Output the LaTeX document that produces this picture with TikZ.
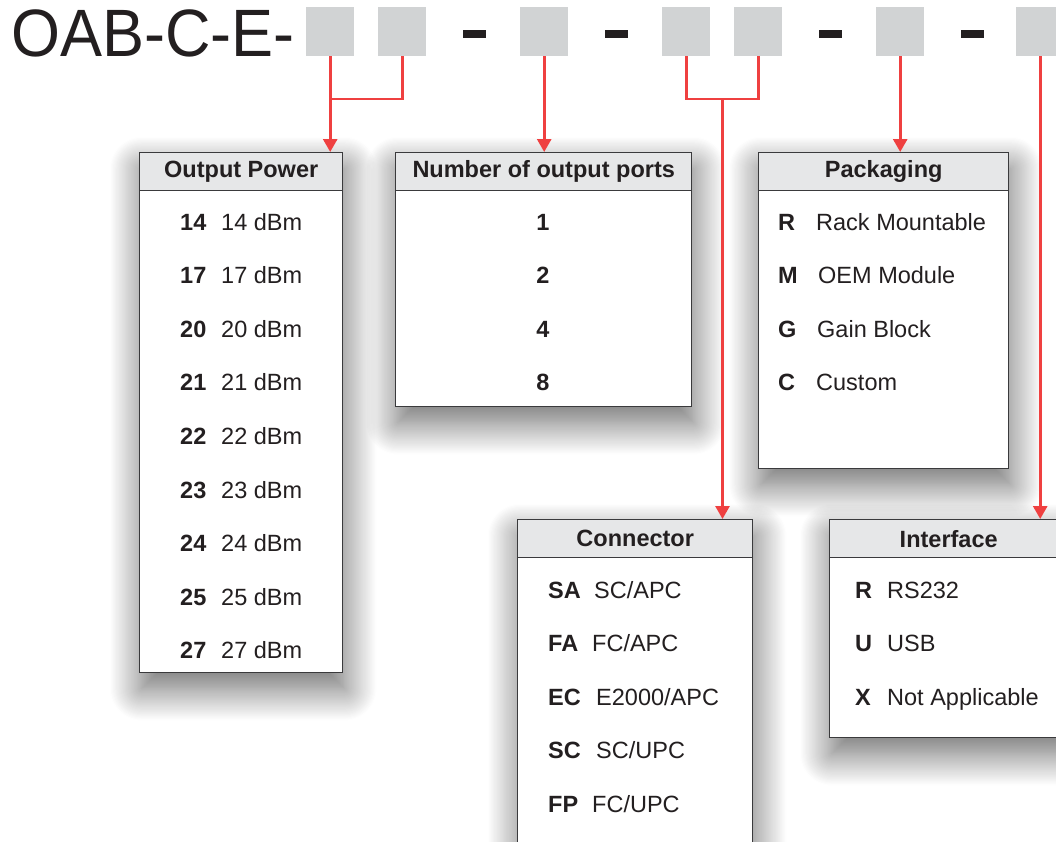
\documentclass[tikz,border=0pt]{standalone}
\usepackage{fontspec}
\setmainfont{Liberation Sans}
\usetikzlibrary{shadows.blur,arrows.meta}
\definecolor{ink}{HTML}{231F20}
\definecolor{slotgray}{HTML}{D1D3D4}
\definecolor{hdrgray}{HTML}{E6E7E8}
\definecolor{framegray}{HTML}{3A3A3C}
\definecolor{leadred}{HTML}{EF4040}
\begin{document}
\begin{tikzpicture}[x=1pt,y=-1pt,font=\fontsize{23.5}{28}\selectfont,text=ink,
  slot/.style={fill=slotgray,draw=none,minimum width=48pt,minimum height=49pt,inner sep=0,anchor=north west},
  dashbar/.style={fill=ink,draw=none,minimum width=23pt,minimum height=8pt,inner sep=0,anchor=north west},
  panel/.style={draw=framegray,line width=1.4pt,fill=white,inner sep=0,anchor=north west,
    blur shadow={shadow xshift=2pt,shadow yshift=-16pt,shadow blur radius=32pt,shadow opacity=60,shadow blur steps=30}},
  hdr/.style={draw=framegray,line width=1.4pt,fill=hdrgray,inner sep=0,anchor=north west,minimum height=38pt,
    font=\fontsize{23.5}{28}\selectfont\bfseries},
  code/.style={anchor=base west,inner sep=0,font=\fontsize{23.5}{28}\selectfont\bfseries},
  desc/.style={anchor=base west,inner sep=0},
  ctr/.style={anchor=base,inner sep=0,font=\fontsize{23.5}{28}\selectfont\bfseries},
  leadline/.style={draw=leadred,line width=2.8pt},
  leadarrow/.style={leadline,-{Triangle[width=14pt,length=13pt]}}]
\useasboundingbox (0,0) rectangle (1056,841);
\clip (0,0) rectangle (1056,841);

% title and code slots
\node[anchor=base west,inner sep=0,font=\fontsize{67}{70}\selectfont] (title) at (11,56) {\scalebox{0.94}[1]{OAB-C-E-}};
\node[slot] (g1) at (306,7) {};
\node[slot] (g2) at (378,7) {};
\node[dashbar] (d1) at (463,30) {};
\node[slot] (g3) at (520,7) {};
\node[dashbar] (d2) at (605,30) {};
\node[slot] (g4) at (662,7) {};
\node[slot] (g5) at (734,7) {};
\node[dashbar] (d3) at (819,30) {};
\node[slot] (g6) at (876,7) {};
\node[dashbar] (d4) at (961,30) {};
\node[slot] (g7) at (1016,7) {};

% panels
\node[panel,minimum width=203pt,minimum height=520pt] (op) at (139,152) {};
\node[panel,minimum width=296pt,minimum height=254pt] (np) at (395,152) {};
\node[panel,minimum width=250pt,minimum height=316pt] (pk) at (758,152) {};
\node[panel,minimum width=235pt,minimum height=380pt] (cn) at (517,519) {};
\node[panel,minimum width=238pt,minimum height=218pt] (ifc) at (829,519) {};

% headers
\node[hdr,minimum width=203pt] (oph) at (139,152) {Output Power};
\node[hdr,minimum width=296pt] (nph) at (395,152) {Number of output ports};
\node[hdr,minimum width=250pt] (pkh) at (758,152) {Packaging};
\node[hdr,minimum width=235pt] (cnh) at (517,519) {Connector};
\node[hdr,minimum width=238pt] (ifh) at (829,519) {Interface};

% output power rows
\foreach \c [count=\i from 0] in {14,17,20,21,22,23,24,25,27} {
  \node[code] (opc\i) at (180,230+53.6*\i) {\c};
  \node[desc] (opd\i) at (221,230+53.6*\i) {\c\ dBm};
}
% ports rows
\foreach \c [count=\i from 0] in {1,2,4,8} {
  \node[ctr] (npc\i) at (543,230+53.6*\i) {\c};
}
% packaging rows
\node[code] (pkc0) at (778,230) {R};   \node[desc] (pkd0) at (816,230) {Rack Mountable};
\node[code] (pkc1) at (778,283.6) {M}; \node[desc] (pkd1) at (818,283.6) {OEM Module};
\node[code] (pkc2) at (778,337.2) {G}; \node[desc] (pkd2) at (817,337.2) {Gain Block};
\node[code] (pkc3) at (778,390.8) {C}; \node[desc] (pkd3) at (816,390.8) {Custom};
% connector rows
\node[code] (cnc0) at (548,598) {SA};   \node[desc] (cnd0) at (594,598) {SC/APC};
\node[code] (cnc1) at (548,651.6) {FA}; \node[desc] (cnd1) at (592,651.6) {FC/APC};
\node[code] (cnc2) at (548,705.2) {EC}; \node[desc] (cnd2) at (596,705.2) {E2000/APC};
\node[code] (cnc3) at (548,758.8) {SC}; \node[desc] (cnd3) at (596,758.8) {SC/UPC};
\node[code] (cnc4) at (548,812.4) {FP}; \node[desc] (cnd4) at (592,812.4) {FC/UPC};
% interface rows
\node[code] (ifc0) at (855,598) {R};   \node[desc] (ifd0) at (887,598) {RS232};
\node[code] (ifc1) at (855,651.6) {U}; \node[desc] (ifd1) at (887,651.6) {USB};
\node[code] (ifc2) at (855,705.2) {X}; \node[desc] (ifd2) at (887,705.2) {Not Applicable};

% connectors
\draw[leadline] (g2.south) |- (g1.south |- 0,99);
\draw[leadarrow] (g1.south) -- (g1.south |- op.north);
\draw[leadarrow] (g3.south) -- (g3.south |- np.north);
\coordinate (j45) at (722.5,99);
\draw[leadline] (g4.south) |- (g5.south |- j45) -- (g5.south);
\draw[leadarrow] (j45) -- (j45 |- cn.north);
\draw[leadarrow] (g6.south) -- (g6.south |- pk.north);
\draw[leadarrow] (g7.south) -- (g7.south |- ifc.north);
\end{tikzpicture}
\end{document}
